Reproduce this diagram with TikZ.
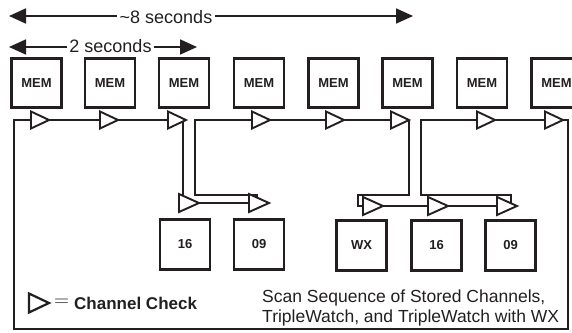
\documentclass[tikz,border=0pt]{standalone}
\usepackage{fontspec}
\setmainfont{Liberation Sans}
\usetikzlibrary{shapes.geometric,arrows.meta,backgrounds}
\definecolor{ink}{HTML}{231F20}
\begin{document}
\begin{tikzpicture}[x=1pt,y=-1pt,
  box/.style={draw=ink,line width=2.2pt,minimum width=50pt,minimum height=49pt,inner sep=0pt,outer sep=0pt,font=\fontsize{13}{15}\selectfont\bfseries,text=ink,fill=white},
  lowbox/.style={box,minimum height=50pt},
  chk/.style={draw=ink,line width=1.9pt,fill=white,isosceles triangle,isosceles triangle stretches,minimum width=17pt,minimum height=18pt,inner sep=0pt,outer sep=0pt,anchor=west},
  chkl/.style={chk,minimum width=18pt,minimum height=20pt},
  flow/.style={draw=ink,line width=1.9pt},
  span/.style={draw=ink,line width=1.8pt,-{Triangle[length=17pt,width=15pt]}},
  lbl/.style={font=\fontsize{18}{21}\selectfont,text=ink,inner ysep=0pt,inner xsep=3pt}
]
\useasboundingbox (0,0) rectangle (572,332);
\clip (0,0) rectangle (572,332);

% time spans
\node[lbl,anchor=base] (s8) at (166,23) {\textasciitilde8 seconds};
\coordinate (s8l) at (9,16);
\coordinate (s8r) at (413,16);
\draw[span] (s8.west |- s8l) -- (s8l);
\draw[span] (s8.east |- s8r) -- (s8r);
\node[lbl,anchor=base,inner xsep=2pt] (s2) at (110.5,52) {2 seconds};
\coordinate (s2l) at (9,47);
\coordinate (s2r) at (197,47);
\draw[span] (s2.west |- s2l) -- (s2l);
\draw[span] (s2.east |- s2r) -- (s2r);

% memory boxes
\node[box] (m1) at (36.5,83) {MEM};
\node[box] (m2) at (110,83) {MEM};
\node[box] (m3) at (184,83) {MEM};
\node[box] (m4) at (259,83) {MEM};
\node[box] (m5) at (333.5,83) {MEM};
\node[box] (m6) at (407.5,83) {MEM};
\node[box] (m7) at (482,83) {MEM};
\node[box] (m8) at (556.5,83) {MEM};

% lower channel boxes
\node[lowbox] (b16a) at (185,244.5) {16};
\node[lowbox] (b09a) at (259,244.5) {09};
\node[lowbox] (bwx) at (361.5,245.5) {WX};
\node[lowbox] (b16b) at (436.5,245.5) {16};
\node[lowbox] (b09b) at (510.5,245.5) {09};

% channel checks, top row
\node[chk] (t1) at (31,120) {};
\node[chk] (t2) at (100,120) {};
\node[chk] (t3) at (168,120) {};
\node[chk] (t4) at (252,120) {};
\node[chk] (t5) at (326,120) {};
\node[chk] (t6) at (391,120) {};
\node[chk] (t7) at (477,120) {};
\node[chk] (t8) at (545,120) {};

% channel checks, lower row
\node[chkl] (l1) at (179,203) {};
\node[chkl] (l2) at (249,203) {};
\node[chkl] (lw) at (363,206) {};
\node[chkl] (lb) at (428,206) {};
\node[chkl] (lc) at (497,206) {};

% route corners
\coordinate (lpR) at (568,120);
\coordinate (lpBR) at (568,329);
\coordinate (lpBL) at (14,329);
\coordinate (lpL) at (14,120);
\coordinate (e1a) at (183,120);
\coordinate (e1b) at (183,202);
\coordinate (r1a) at (257,201);
\coordinate (r1b) at (257,195);
\coordinate (r1c) at (195,195);
\coordinate (r1d) at (195,120);
\coordinate (e2b) at (409,195);
\coordinate (e2c) at (358,195);
\coordinate (e2d) at (358,206);
\coordinate (r2a) at (511,204);
\coordinate (r2b) at (511,195);
\coordinate (r2c) at (421,195);
\coordinate (r2d) at (421,120);

\begin{scope}[on background layer]
\draw[flow] (t8.apex) -- (lpR) -- (lpBR) -- (lpBL) -- (lpL) -- (t1.west);
\draw[flow] (t1.apex) -- (t2.west);
\draw[flow] (t2.apex) -- (t3.west);
\draw[flow] (e1a) -- (e1b);
\draw[flow] (l1.apex) -- (l2.west);
\draw[flow] (r1a) -- (r1b) -- (r1c) -- (r1d) -- (t4.west);
\draw[flow] (t4.apex) -- (t5.west);
\draw[flow] (t5.apex) -- (t6.west);
\draw[flow] (t6.apex) -- (e2b) -- (e2c) -- (e2d) -- (lw.west);
\draw[flow] (lw.apex) -- (lb.west);
\draw[flow] (lb.apex) -- (lc.west);
\draw[flow] (r2a) -- (r2b) -- (r2c) -- (r2d) -- (t7.west);
\draw[flow] (t7.apex) -- (t8.west);
\end{scope}

% legend
\node[chk,minimum width=19pt,minimum height=20pt,line width=2.2pt] (lg) at (29,303) {};
\node[text=ink,inner sep=0pt,font=\fontsize{21}{24}\selectfont] (eq) at (61.5,303) {$=$};
\node[text=ink,inner sep=0pt,anchor=west,font=\fontsize{17}{20}\selectfont\bfseries] (cc) at (74,303) {Channel Check};

% caption
\node[text=ink,inner sep=0pt,anchor=base west,align=left,font=\fontsize{17.5}{20.5}\selectfont] (cap) at (262,322.5) {Scan Sequence of Stored Channels,\\TripleWatch, and TripleWatch with WX};
\end{tikzpicture}
\end{document}
